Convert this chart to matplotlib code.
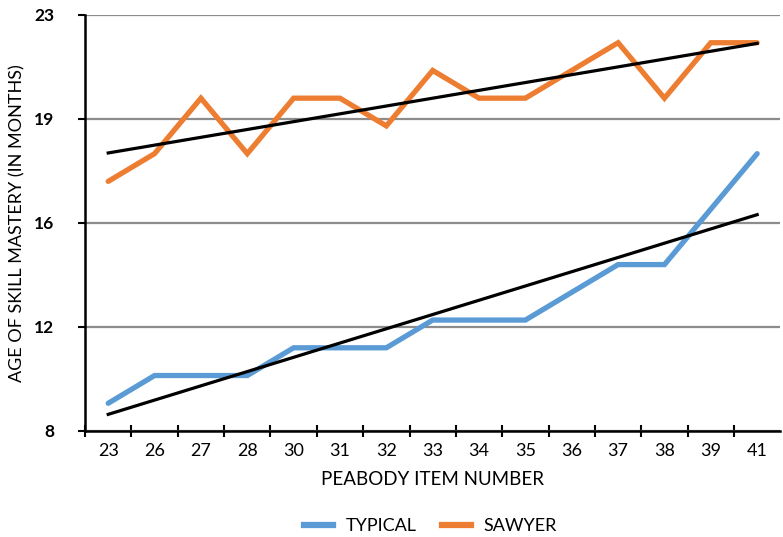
import numpy as np
import matplotlib.pyplot as plt
from matplotlib.ticker import FuncFormatter

items = ["23", "26", "27", "28", "30", "31", "32", "33", "34", "35", "36", "37", "38", "39", "41"]
typical = [9, 10, 10, 10, 11, 11, 11, 12, 12, 12, 13, 14, 14, 16, 18]
sawyer = [17, 18, 20, 18, 20, 20, 19, 21, 20, 20, 21, 22, 20, 22, 22]

plt.rcParams['font.family'] = ['Lato', 'DejaVu Sans']

fig = plt.figure(figsize=(7.83, 5.37), dpi=100)
ax = fig.add_axes([0.1086, 0.1974, 0.888, 0.7747])

x = np.arange(len(items))
ax.plot(x, typical, color='#5B9BD5', lw=3.8, solid_capstyle='round', solid_joinstyle='miter', zorder=3)
ax.plot(x, sawyer, color='#ED7D31', lw=3.8, solid_capstyle='round', solid_joinstyle='miter', zorder=3)

# linear trend lines
for s in (typical, sawyer):
    k, b = np.polyfit(x, s, 1)
    ax.plot(x, k * x + b, color='black', lw=2.3, zorder=4)

ax.set_xlim(-0.5, len(items) - 0.5)
ax.set_ylim(8, 23)
ax.set_yticks(np.linspace(8, 23, 5))
ax.yaxis.set_major_formatter(FuncFormatter(lambda v, p: f"{v:.0f}"))
ax.set_xticks(x)
ax.set_xticklabels(items)
ax.set_xticks(np.arange(len(items)) - 0.5, minor=True)

ax.grid(axis='y', color='#8c8c8c', lw=1.6)
ax.set_axisbelow(True)
for side in ('top', 'right'):
    ax.spines[side].set_visible(False)
ax.spines['left'].set_linewidth(1.8)
ax.spines['bottom'].set_linewidth(1.8)

ax.tick_params(axis='x', which='major', length=0, pad=9, labelsize=13)
ax.tick_params(axis='x', which='minor', direction='inout', length=8, width=1.5)
ax.tick_params(axis='y', length=5, width=1.5, pad=17, labelsize=12.5)
for t in ax.get_yticklabels():
    t.set_fontweight('bold')

ax.set_xlabel("PEABODY ITEM NUMBER", fontsize=13.5, labelpad=8)
ax.set_ylabel("AGE OF SKILL MASTERY (IN MONTHS)", fontsize=13, labelpad=6)

h1, = ax.plot([], [], color='#5B9BD5', lw=4.5)
h2, = ax.plot([], [], color='#ED7D31', lw=4.5)
fig.legend([h1, h2], ["TYPICAL", "SAWYER"], loc='center', bbox_to_anchor=(0.55, 0.02),
           ncol=2, frameon=False, fontsize=13, handlelength=1.6, handletextpad=0.7,
           columnspacing=1.4)

fig.savefig('out.png', dpi=100)
